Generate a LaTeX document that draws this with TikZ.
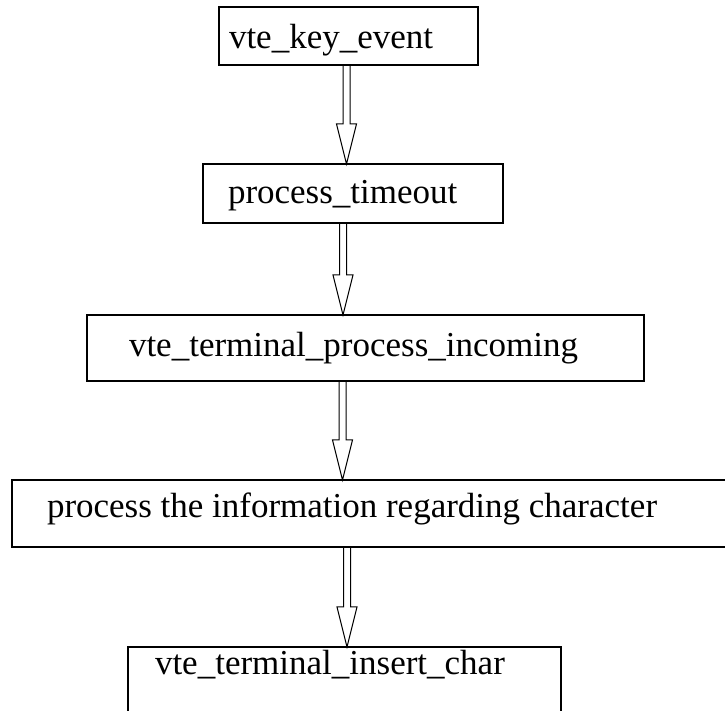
\documentclass[tikz,border=0pt]{standalone}
\usepackage{fontspec}
\setmainfont{Liberation Serif}
\usepackage{tikz}
\usetikzlibrary{calc}

\tikzset{
  func/.style={draw, line width=1.1pt, rectangle, anchor=north west, align=left,
    inner ysep=0pt, outer sep=0pt, font=\fontsize{35}{40}\selectfont},
  harrow/.style={line width=1pt, line join=miter}
}
% hollow arrow from one box to the next, at a given x
\newcommand{\hollowarrow}[3]{%
  \coordinate (ax) at (#3,0);
  \draw[harrow] ($(ax |- #1.south)+(-3.5,0)$) -- ($(ax |- #2.north)+(-3.5,40)$)
    -- ++(-6.5,0) -- (ax |- #2.north) -- ++(10,40) -- ++(-6.5,0)
    -- ($(ax |- #1.south)+(3.5,0)$);
}

\begin{document}
\begin{tikzpicture}[x=1pt,y=1pt]
  \useasboundingbox (0,0) rectangle (725,711);

  \node[func, inner xsep=10pt, text width=239pt, text height=42pt, text depth=16pt]
    (key) at (219,704) {vte\_key\_event};
  \node[func, inner xsep=25pt, text width=250pt, text height=40pt, text depth=19pt]
    (timeout) at (203,547) {process\_timeout};
  \node[func, inner xsep=42pt, text width=473pt, text height=42pt, text depth=24pt]
    (incoming) at (87,396) {vte\_terminal\_process\_incoming};
  \node[func, inner xsep=35pt, text width=658pt, text height=38pt, text depth=29pt,
    execute at begin node={\spaceskip=8.7pt\relax}]
    (info) at (12,231) {process the information regarding character};
  \node[func, inner xsep=27pt, text width=379pt, text height=28pt, text depth=40pt]
    (insert) at (128,64) {vte\_terminal\_insert\_char};

  \hollowarrow{key}{timeout}{346.5}
  \hollowarrow{timeout}{incoming}{343}
  \hollowarrow{incoming}{info}{342.5}
  \hollowarrow{info}{insert}{347}
\end{tikzpicture}
\end{document}
